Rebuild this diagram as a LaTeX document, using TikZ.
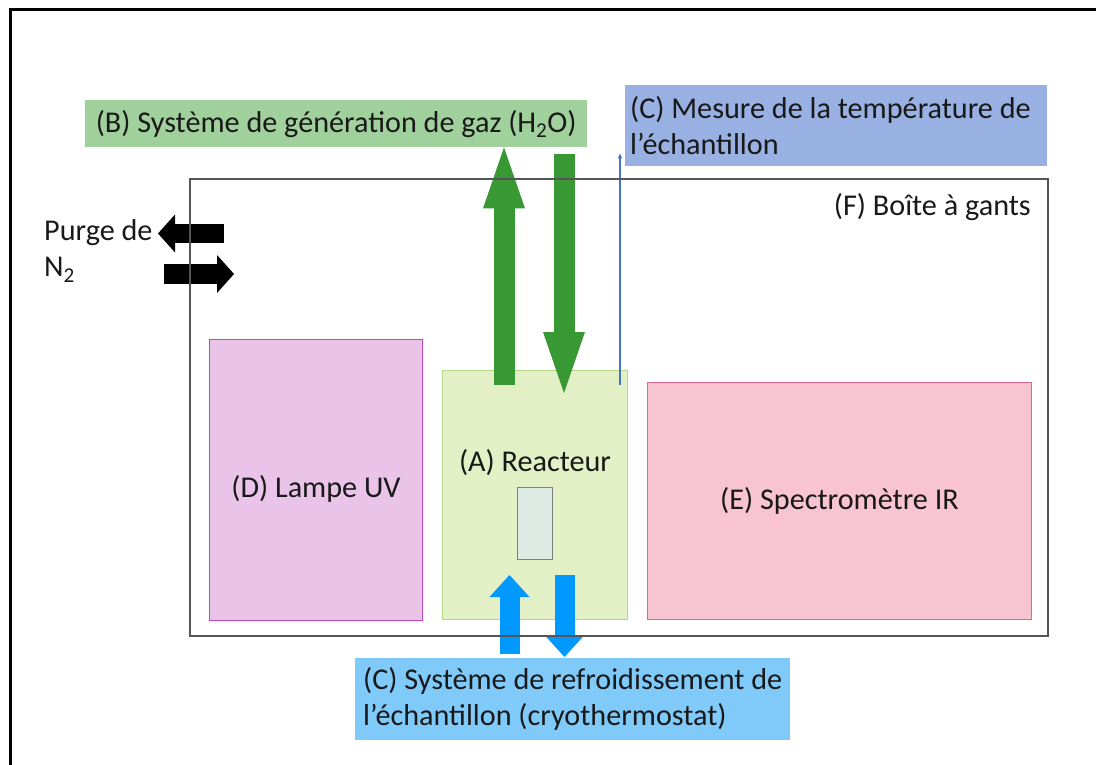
\documentclass[tikz,border=0pt]{standalone}
\usepackage{fontspec}
\setmainfont{Carlito}
\usetikzlibrary{positioning,arrows.meta,calc}

\definecolor{inkc}{RGB}{25,25,25}
\definecolor{gasfill}{RGB}{160,208,156}
\definecolor{tempfill}{RGB}{152,176,226}
\definecolor{cryofill}{RGB}{128,202,250}
\definecolor{gasgreen}{RGB}{55,152,52}
\definecolor{cryoblue}{RGB}{0,153,255}
\definecolor{probeblue}{RGB}{68,114,196}
\definecolor{uvfill}{RGB}{234,196,232}
\definecolor{uvline}{RGB}{190,70,190}
\definecolor{reacfill}{RGB}{227,239,196}
\definecolor{reacline}{RGB}{180,215,140}
\definecolor{cellfill}{RGB}{222,235,228}
\definecolor{irfill}{RGB}{248,196,210}
\definecolor{irline}{RGB}{224,100,140}
\definecolor{gbline}{RGB}{85,85,85}

\begin{document}
\begin{tikzpicture}[x=1pt, y=-1pt, font=\fontsize{30.2}{36}\selectfont, text=inkc,
  box/.style={draw, inner sep=0pt, anchor=north west, line width=1pt},
  uvbox/.style={box, fill=uvfill, draw=uvline},
  reacbox/.style={box, fill=reacfill, draw=reacline},
  cellbox/.style={box, fill=cellfill, draw=gray},
  irbox/.style={box, fill=irfill, draw=irline},
  tag/.style={inner ysep=0pt, anchor=north west, align=flush left},
  txt/.style={inner sep=2pt},
  gpipe/.style={draw=gasgreen, line width=21pt, -{Triangle[length=61pt,width=42pt,line width=0pt]}},
  cpipe/.style={draw=cryoblue, line width=20pt, -{Triangle[length=22pt,width=40pt,line width=0pt]}},
  npipe/.style={draw=black, line width=19.5pt, -{Triangle[length=17pt,width=38pt,line width=0pt]}}]
\useasboundingbox (0,0) rectangle (1096,765);
\draw[line width=3pt] (10,765) -- (10,10) -- (1096,10);
% glove box and what sits in it
\node[box, draw=none, minimum width=857pt, minimum height=456pt] (gb) at (190,179) {};
\node[uvbox, minimum width=213pt, minimum height=281pt] (uv) at (209,339) {};
\node[txt] (uvlbl) at ($(uv.center)+(0,9)$) {(D) Lampe UV};
\node[reacbox, minimum width=185pt, minimum height=249pt] (reac) at (442,370) {};
\node[txt] (reaclbl) at ($(reac.north)+(0,93)$) {(A) Reacteur};
\node[cellbox, minimum width=35pt, minimum height=72pt] (cell) at (517,487) {};
\node[irbox, minimum width=384pt, minimum height=237pt] (ir) at (647,382) {(E) Spectromètre IR};
\node[txt, anchor=east] (gblbl) at ($(gb.north east)+(-15,28)$) {(F) Boîte à gants};
% outside systems
\node[tag, fill=gasfill, inner xsep=0pt, minimum width=502pt, minimum height=47pt] (gas) at (85,100) {(B) Système de génération de gaz (H\textsubscript{2}O)};
\node[tag, fill=tempfill, inner xsep=5pt, text width=412pt, minimum height=81pt] (temp) at (625,85) {(C) Mesure de la température de\\l’échantillon};
\node[tag, fill=cryofill, inner xsep=8pt, text width=419pt, minimum height=82pt] (cryo) at (355,658) {(C) Système de refroidissement de\\l’échantillon (cryothermostat)};
\node[txt, align=left, anchor=west] (purge) at (42,251) {Purge de\\N\textsubscript{2}};
% flows
\draw[gpipe] ($(reac.north)+(-31,15)$) -- ($(reac.north |- gas.south)+(-31,0)$);
\draw[gpipe] ($(reac.north |- gas.south)+(29,7)$) -- ($(reac.north)+(29,23)$);
\draw[probeblue, line width=1.2pt, -{Triangle[length=5pt,width=4pt]}] ($(reac.north east)+(-8,15)$) -- ($(reac.north east |- temp.south)+(-8,-13)$);
\draw[cpipe] ($(reac.south |- cryo.north)+(-25.5,-4)$) -- ($(reac.south)+(-25.5,-45)$);
\draw[cpipe] ($(reac.south)+(29.5,-45)$) -- ($(reac.south |- cryo.north)+(29.5,-1)$);
\draw[npipe] ($(gb.north west)+(34,54.5)$) -- ($(gb.north west)+(-32,54.5)$);
\draw[npipe] ($(gb.north west)+(-26,95)$) -- ($(gb.north west)+(44,95)$);
\draw[gbline, line width=1.8pt] (gb.north west) rectangle (gb.south east);
\end{tikzpicture}
\end{document}
